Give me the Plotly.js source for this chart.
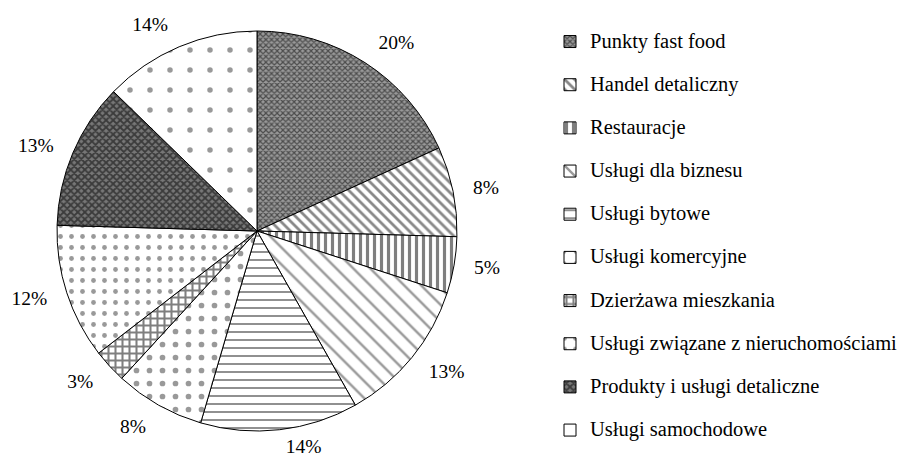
<!DOCTYPE html>
<html>
<head>
<meta charset="utf-8">
<script src="https://cdn.plot.ly/plotly-3.0.1.min.js"></script>
<style>
html,body{margin:0;padding:0;background:#fff;}
#chart{width:899px;height:462px;}
#chart text, #chart tspan{font-family:"Liberation Serif","Times New Roman",serif !important;}
</style>
</head>
<body>
<div id="chart"></div>
<script>
// Categories (legend order = clockwise slice order from 12 o'clock)
const categories = [
  "Punkty fast food",
  "Handel detaliczny",
  "Restauracje",
  "Usługi dla biznesu",
  "Usługi bytowe",
  "Usługi komercyjne",
  "Dzierżawa mieszkania",
  "Usługi związane z nieruchomościami",
  "Produkty i usługi detaliczne",
  "Usługi samochodowe"
];
// Shares as labelled on the chart (%)
const shares = [20, 8, 5, 13, 14, 8, 3, 12, 13, 14];
const percentLabels = shares.map(v => v + "%");

// Fill patterns (styling)
const patShapes   = ["x", "\\", "|", "\\", "-", ".", "+", ".", "x", "."];
const patSizes    = [4, 7, 7, 12, 8, 13, 7, 11, 5, 20];
const patSolidity = [0.5, 0.4, 0.45, 0.2, 0.25, 0.15, 0.5, 0.15, 0.6, 0.06];
const patFg       = ["#000", "#111", "#000", "#333", "#222", "#333", "#000", "#333", "#000", "#333"];
const patBg       = ["#999", "#fff", "#fff", "#fff", "#fff", "#fff", "#fff", "#fff", "#777", "#fff"];

const FONT = "Liberation Serif, Times New Roman, serif";
const legendNames = categories.map((c, i) =>
  '<span style="font-size:20.5px">' + c + '</span>' + (i < categories.length - 1 ? '<br> ' : ''));

// Main patterned pie (no text)
const pie = {
  type: "pie",
  labels: legendNames,
  values: shares,
  textinfo: "none",
  sort: false,
  direction: "clockwise",
  rotation: 0,
  hoverinfo: "none",
  domain: {x: [57/899, 457/899], y: [31/462, 431/462]},
  marker: {
    colors: categories.map(() => "#fff"),
    line: {color: "#000", width: 1},
    pattern: {
      shape: patShapes,
      size: patSizes,
      solidity: patSolidity,
      fgcolor: patFg,
      bgcolor: patBg,
      fillmode: "overlay"
    }
  }
};

// Transparent companion pies carrying the percentage labels a bit further out
function labelPie(keep, r) {
  return {
    type: "pie",
    labels: legendNames,
    values: shares,
    text: percentLabels.map((t, i) => keep(i) ? t : ""),
    textinfo: "text",
    textposition: "outside",
    sort: false,
    direction: "clockwise",
    rotation: 0,
    hoverinfo: "none",
    showlegend: false,
    domain: {x: [(257 - r)/899, (257 + r)/899], y: [(231 - r)/462, (231 + r)/462]},
    marker: {colors: categories.map(() => "rgba(0,0,0,0)"), line: {width: 0}},
    outsidetextfont: {family: FONT, size: 19.5, color: "#000"},
    textfont: {family: FONT, size: 19.5, color: "#000"}
  };
}

const layout = {
  width: 899,
  height: 462,
  margin: {l: 0, r: 0, t: 0, b: 0, autoexpand: false},
  paper_bgcolor: "#fff",
  showlegend: true,
  font: {family: FONT, color: "#000"},
  legend: {
    x: 550/899,
    xanchor: "left",
    y: 1 - 25/462,
    yanchor: "top",
    valign: "top",
    font: {family: FONT, size: 15.45, color: "#000"},
    bgcolor: "rgba(0,0,0,0)"
  }
};

Plotly.newPlot("chart", [pie, labelPie(i => i !== 4, 215), labelPie(i => i === 4, 206)], layout, {staticPlot: true, displayModeBar: false});
</script>
</body>
</html>
